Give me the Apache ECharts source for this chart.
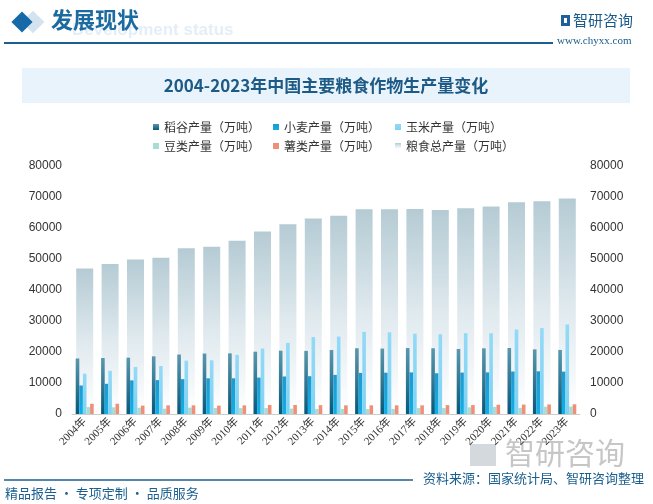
<!DOCTYPE html>
<html>
<head>
<meta charset="utf-8">
<script src="https://cdn.jsdelivr.net/npm/echarts@6/dist/echarts.min.js"></script>
<style>
html,body{margin:0;padding:0;background:#fff;}
#c{width:653px;height:504px;}
</style>
</head>
<body>
<div id="c"></div>
<script>
var years = ['2004年','2005年','2006年','2007年','2008年','2009年','2010年','2011年','2012年','2013年','2014年','2015年','2016年','2017年','2018年','2019年','2020年','2021年','2022年','2023年'];
var rice = [17909,18059,18172,18603,19190,19510,19576,20100,20424,20361,20651,21214,21109,21268,21213,20961,21186,21284,20849,20660];
var wheat = [9195,9745,10847,10930,11246,11512,11518,11740,12102,12193,12621,13256,13327,13424,13144,13360,13425,13695,13772,13659];
var corn = [13029,13937,15200,15500,17212,17326,19075,21132,22956,24845,24976,26499,26361,25907,25717,26078,26067,27255,27720,28884];
var beans = [2232,2158,2004,1720,2043,1930,1897,1908,1731,1595,1625,1590,1650,1917,1920,2132,2288,1966,2351,2384];
var tubers = [3300,3300,2700,2800,2800,2700,2800,2900,2900,2850,2800,2800,2800,2800,2865,2883,2987,3043,3078,3138];
var total = [46947,48402,49804,50414,53434,53941,55911,58849,61223,63048,63965,66060,66044,66161,65789,66384,66949,68285,68653,69541];
var yTicks = {min:0, max:80000, interval:10000};

var names = ['稻谷产量（万吨）','小麦产量（万吨）','玉米产量（万吨）','豆类产量（万吨）','薯类产量（万吨）','粮食总产量（万吨）'];
function grad(stops){
  return new echarts.graphic.LinearGradient(0,0,0,1,stops.map(function(s){return {offset:s[0], color:s[1]};}));
}
var cjk = '"Noto Sans CJK SC","Liberation Sans",sans-serif';
var chart = echarts.init(document.getElementById('c'));
var small = {type:'bar', xAxisIndex:0, barWidth:3.6, barGap:'0%', z:3};
var legText = {fontSize:12, color:'#333', fontFamily:cjk};
function leg(left, top, data){
  return {orient:'vertical', left:left, top:top, itemWidth:6, itemHeight:6, itemGap:7, icon:'rect', textStyle:legText, data:data, selectedMode:false};
}
var yLabel = {fontSize:12, color:'#333', fontFamily:'"Liberation Sans",sans-serif', margin:10, formatter:function(v){return String(v);}};
chart.setOption({
  animation:false,
  backgroundColor:'#fff',
  legend:[leg(148,116,[names[0],names[3]]), leg(268,116,[names[1],names[4]]), leg(390,116,[names[2],names[5]])],
  grid:{left:72, right:73, top:166, bottom:90},
  xAxis:[
    {type:'category', data:years, axisTick:{show:false}, axisLine:{lineStyle:{color:'#ccc', width:1}},
     axisLabel:{rotate:45, fontSize:11, color:'#333', fontFamily:'"Liberation Serif","Noto Sans CJK SC",serif', margin:6, interval:0}},
    {type:'category', data:years, show:false}
  ],
  yAxis:[
    {type:'value', min:yTicks.min, max:yTicks.max, interval:yTicks.interval, splitLine:{show:false}, axisLine:{show:false}, axisTick:{show:false}, axisLabel:yLabel},
    {type:'value', position:'right', min:yTicks.min, max:yTicks.max, interval:yTicks.interval, splitLine:{show:false}, axisLine:{show:false}, axisTick:{show:false}, axisLabel:yLabel}
  ],
  series:[
    {type:'bar', name:names[5], xAxisIndex:1, barWidth:17, z:1, data:total, itemStyle:{color:grad([[0,'#b5cbd4'],[0.5,'#dfe9ee'],[1,'#ffffff']])}},
    Object.assign({}, small, {name:names[0], data:rice, itemStyle:{color:grad([[0,'#5a97ad'],[1,'#08587a']])}}),
    Object.assign({}, small, {name:names[1], data:wheat, itemStyle:{color:grad([[0,'#2299cf'],[1,'#0cb0e8']])}}),
    Object.assign({}, small, {name:names[2], data:corn, itemStyle:{color:grad([[0,'#92daf7'],[1,'#80d2f3']])}}),
    Object.assign({}, small, {name:names[3], data:beans, itemStyle:{color:'#a8dcd5'}}),
    Object.assign({}, small, {name:names[4], data:tubers, itemStyle:{color:'#ef8f78'}})
  ],
  graphic:[
    {type:'text', left:72, top:22, z:0, style:{text:'Development status', fontSize:17, fontWeight:'bold', fill:'#e3eef8', fontFamily:'"Liberation Sans",sans-serif'}},
    {type:'rect', shape:{x:-8,y:-8,width:16,height:16}, x:33, y:22, rotation:Math.PI/4, style:{fill:'#d3e3ef'}},
    {type:'rect', shape:{x:-7.5,y:-7.5,width:15,height:15}, x:22, y:22, rotation:Math.PI/4, style:{fill:'#1569a6'}},
    {type:'text', left:51, top:9, style:{text:'发展现状', fontSize:22, fontWeight:'bold', fill:'#1b6aa0', fontFamily:cjk}},
    {type:'line', shape:{x1:4,y1:43,x2:553,y2:43}, style:{stroke:'#1a5f8f', lineWidth:2}},
    {type:'rect', shape:{x:561,y:15,width:9,height:11}, style:{fill:'#1f5f9a'}},
    {type:'rect', shape:{x:564,y:18,width:3,height:5}, style:{fill:'#fff'}},
    {type:'text', left:573, top:13, style:{text:'智研咨询', fontSize:15, fill:'#1a5a8a', fontFamily:cjk}},
    {type:'text', left:557, top:36, style:{text:'www.chyxx.com', fontSize:11, fill:'#1a5a8a', fontFamily:'"Liberation Serif",serif'}},
    {type:'rect', shape:{x:22,y:68,width:608,height:35}, style:{fill:'#e8f3fb'}},
    {type:'text', x:326, y:86, style:{text:'2004-2023年中国主要粮食作物生产量变化', fontSize:17, fontWeight:'bold', fill:'#1d5a86', align:'center', verticalAlign:'middle', fontFamily:cjk}},
    {type:'rect', shape:{x:470,y:444,width:26,height:22}, style:{fill:'rgba(170,180,190,0.5)'}},
    {type:'text', left:505, top:438, style:{text:'智研咨询', fontSize:30, fill:'rgba(160,160,160,0.6)', fontFamily:cjk}},
    {type:'line', shape:{x1:4,y1:480,x2:413,y2:480}, style:{stroke:'#1a5f8f', lineWidth:1.5}},
    {type:'text', left:423, top:472, style:{text:'资料来源：国家统计局、智研咨询整理', fontSize:13, fill:'#1a5f8f', fontFamily:cjk}},
    {type:'text', left:5, top:487, style:{text:'精品报告 · 专项定制 · 品质服务', fontSize:13, fill:'#1a5f8f', fontFamily:cjk}}
  ]
});
</script>
</body>
</html>
